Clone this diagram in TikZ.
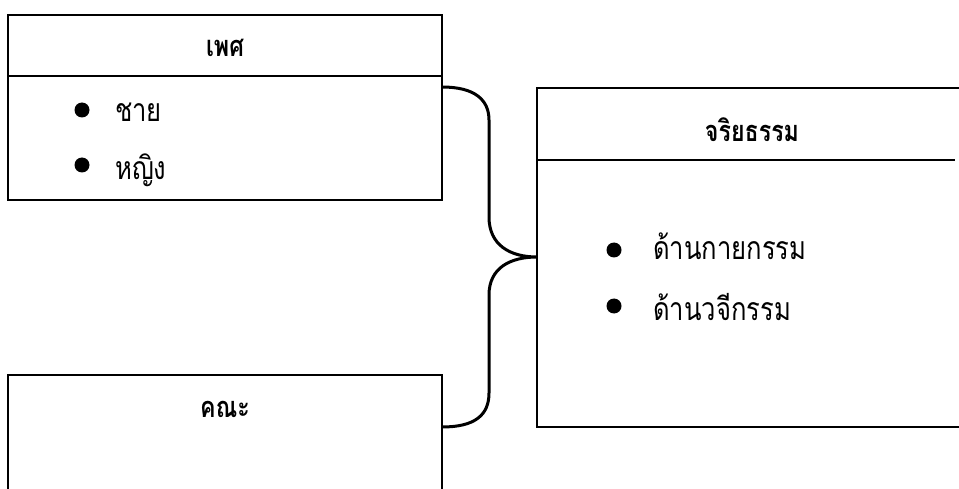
\documentclass[tikz,border=0pt]{standalone}
\usepackage{fontspec}
\newfontfamily\thaifont[Script=Thai,FakeStretch=0.8]{Loma}
\usetikzlibrary{calc}

\tikzset{
  head/.style={font=\thaifont\bfseries\fontsize{29}{32}\selectfont, anchor=base, inner sep=0pt},
  item/.style={font=\thaifont\fontsize{32}{36}\selectfont, anchor=base west, inner sep=0pt},
  frame/.style={line width=1.3pt},
}

\begin{document}
\begin{tikzpicture}[x=1pt,y=-1pt]
\useasboundingbox (0,0) rectangle (959,489);
\clip (0,0) rectangle (959,489);

% กล่อง เพศ
\coordinate (S1) at (8,15);
\coordinate (S2) at (442,200);
\draw[frame] (S1) rectangle (S2);
\draw[frame] (8,76) -- (442,76);
\node [head] (sex) at (225,57) {เพศ};
\fill (82,110) circle(7.5);
\node [item] (male) at (115,122) {ชาย};
\fill (82,165) circle(7.5);
\node [item] (female) at (115,180) {หญิง};

% กล่อง คณะ (ล้นขอบล่าง)
\coordinate (F1) at (8,375);
\coordinate (F2) at (442,520);
\draw[frame] (F1) rectangle (F2);
\node [head] (fac) at (225,417) {คณะ};

% กล่อง จริยธรรม (ล้นขอบขวา)
\coordinate (E1) at (537,88);
\coordinate (E2) at (990,427);
\draw[frame] (E1) rectangle (E2);
\draw[frame] (537,160) -- (955,160);
\node [head] (eth) at (752,142) {จริยธรรม};
\fill (614,250) circle(7.5);
\node [item] (deed) at (653,260) {ด้านกายกรรม};
\fill (614,306) circle(7.5);
\node [item] (speech) at (653,320) {ด้านวจีกรรม};

% วงเล็บปีกกา
\coordinate (sexR) at (442,87);
\coordinate (facR) at (442,427);
\coordinate (ethL) at (537,257);
\draw[line width=3pt] (sexR) .. controls (475,87) and (489,100) .. (489,120)
  -- (489,217) .. controls (489,245) and (510,257) .. (ethL)
  .. controls (510,257) and (489,268) .. (489,295)
  -- (489,393) .. controls (489,415) and (475,427) .. (facR);

\end{tikzpicture}
\end{document}
